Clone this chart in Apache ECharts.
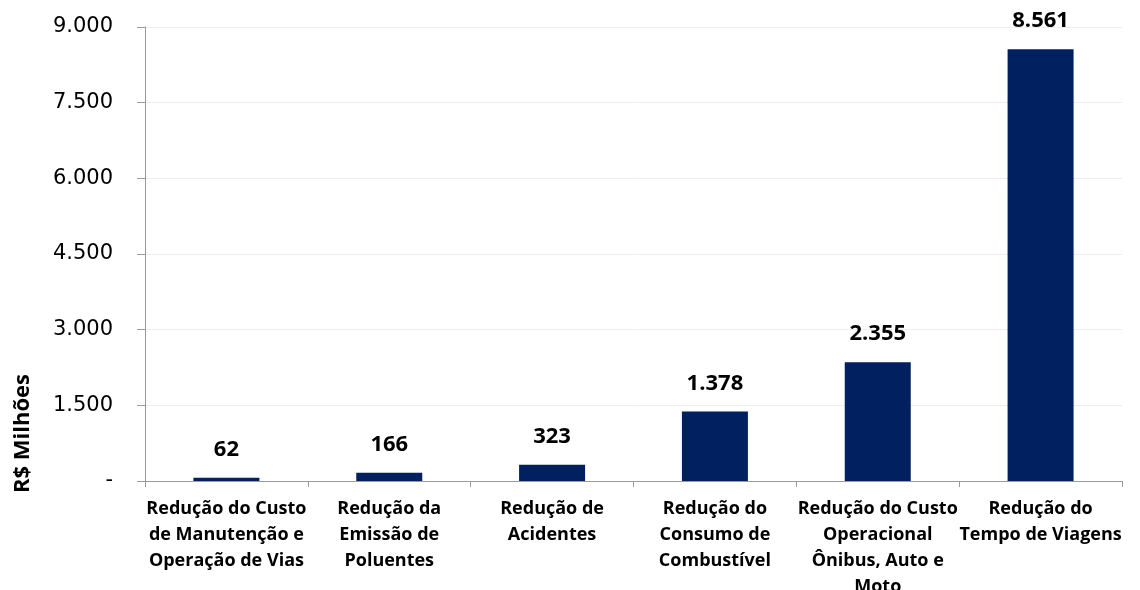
<!DOCTYPE html>
<html>
<head>
<meta charset="utf-8">
<script src="https://cdn.jsdelivr.net/npm/echarts@6/dist/echarts.min.js"></script>
<style>
  html, body { margin: 0; padding: 0; background: #fff; }
  #chart { width: 1140px; height: 590px; }
</style>
</head>
<body>
<div id="chart"></div>
<script>
// dados do gráfico
const categorias = [
  'Redução do Custo\nde Manutenção e\nOperação de Vias',
  'Redução da\nEmissão de\nPoluentes',
  'Redução de\nAcidentes',
  'Redução do\nConsumo de\nCombustível',
  'Redução do Custo\nOperacional\nÔnibus, Auto e\nMoto',
  'Redução do\nTempo de Viagens'
];
const valores = [62, 166, 323, 1378, 2355, 8561];
const eixoMin = 0, eixoMax = 9000, eixoPasso = 1500;

// formata com ponto de milhar, zero vira "-"
function fmt(v) {
  if (v === 0) return '-';
  return String(Math.round(v)).replace(/\B(?=(\d{3})+(?!\d))/g, '.');
}

let myChart = echarts.init(document.getElementById('chart'), null, {renderer: 'canvas'});

let option = {
  animation: false,
  grid: { left: 145, right: 18, top: 27, bottom: 109, containLabel: false, outerBoundsMode: 'none' },
  xAxis: {
    type: 'category',
    data: categorias,
    axisLine: { lineStyle: { color: '#9a9a9a', width: 1 } },
    axisTick: { show: true, alignWithLabel: false, length: 6, lineStyle: { color: '#9a9a9a' } },
    axisLabel: {
      interval: 0,
      margin: 15,
      fontFamily: 'Open Sans',
      fontWeight: 'bold',
      fontSize: 18,
      lineHeight: 26,
      color: '#000'
    }
  },
  yAxis: {
    type: 'value',
    min: eixoMin,
    max: eixoMax,
    interval: eixoPasso,
    axisLine: { show: true, lineStyle: { color: '#9a9a9a', width: 1 } },
    axisTick: { show: true, length: 8, lineStyle: { color: '#9a9a9a' } },
    splitLine: { lineStyle: { color: '#eeeeee' } },
    axisLabel: {
      margin: 32,
      fontFamily: 'DejaVu Sans',
      fontSize: 21,
      color: '#000',
      formatter: fmt
    }
  },
  graphic: [{
    type: 'text',
    x: 12,
    y: 493,
    rotation: Math.PI / 2,
    style: {
      text: 'R$ Milhões',
      fontFamily: 'Open Sans',
      fontWeight: 'bold',
      fontSize: 22,
      fill: '#000',
      align: 'left',
      verticalAlign: 'top'
    }
  }],
  series: [{
    type: 'bar',
    data: valores,
    barWidth: 66,
    itemStyle: { color: '#002060' },
    label: {
      show: true,
      position: 'top',
      distance: 17,
      fontFamily: 'Open Sans',
      fontWeight: 'bold',
      fontSize: 22,
      color: '#000',
      formatter: (p) => fmt(p.value)
    }
  }]
};
myChart.setOption(option);
</script>
</body>
</html>
